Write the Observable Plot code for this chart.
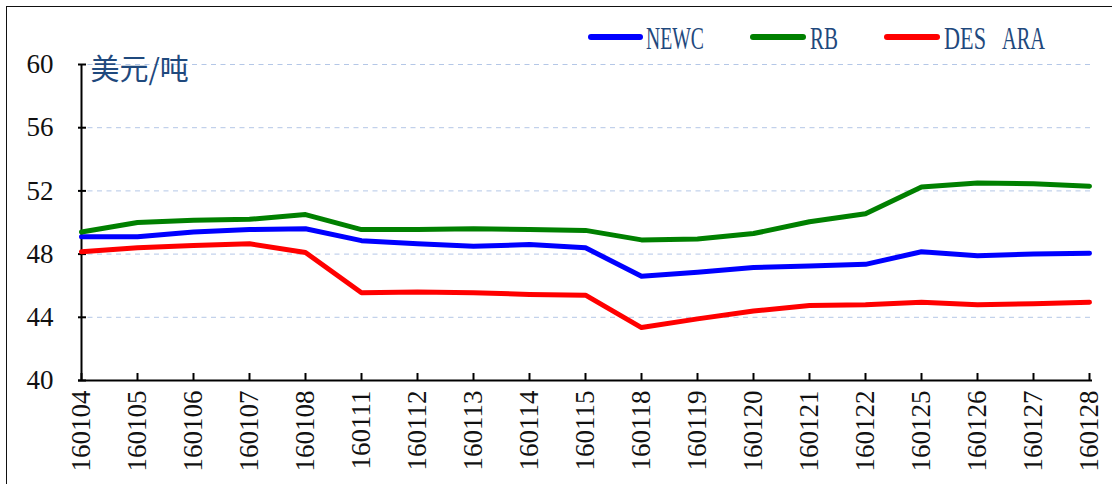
<!DOCTYPE html>
<html>
<head>
<meta charset="utf-8">
<script src="https://cdn.jsdelivr.net/npm/d3@7"></script>
<script src="https://cdn.jsdelivr.net/npm/@observablehq/plot@0.6"></script>
<style>
  html, body { margin: 0; padding: 0; background: #fff; overflow: hidden; }
  #wrap { position: relative; width: 1112px; height: 484px; }
  #border { position: absolute; left: 6px; top: 6px; width: 1300px; height: 700px;
            border-left: 1px solid #111; border-top: 1px solid #111; pointer-events: none; }
  g[aria-label="x-axis tick label"] text, g[aria-label="y-axis tick label"] text,
  g[aria-label="x-axis tick label"], g[aria-label="y-axis tick label"] {
    font-family: "Liberation Serif", "DejaVu Serif", serif !important;
  }
</style>
</head>
<body>
<div id="wrap"><div id="border"></div></div>
<script>
const dates = ["160104","160105","160106","160107","160108","160111","160112","160113","160114","160115",
               "160118","160119","160120","160121","160122","160125","160126","160127","160128"];
const newc   = [49.1, 49.1, 49.4, 49.55, 49.6, 48.85, 48.65, 48.5, 48.6, 48.4, 46.6, 46.85, 47.15, 47.25, 47.35, 48.15, 47.9, 48.0, 48.05];
const rb     = [49.4, 50.0, 50.15, 50.2, 50.5, 49.55, 49.55, 49.6, 49.55, 49.5, 48.9, 48.95, 49.3, 50.05, 50.55, 52.25, 52.5, 52.45, 52.3];
const desAra = [48.15, 48.4, 48.55, 48.65, 48.1, 45.55, 45.6, 45.55, 45.45, 45.4, 43.35, 43.9, 44.4, 44.75, 44.8, 44.95, 44.8, 44.85, 44.95];
const seriesNames = ["NEWC", "RB", "DES ARA"];
const seriesColors = ["#0000FF", "#008000", "#FF0000"];
const yTicks = [40, 44, 48, 52, 56, 60];
const unitLabel = "美元/吨";

const seriesValues = [newc, rb, desAra];
const table = seriesNames.flatMap((name, i) => dates.map((d, j) => ({date: d, value: seriesValues[i][j], series: name})));

const navy = "#1F497D";
const serif = "Liberation Serif";

const chart = Plot.plot({
  width: 1112,
  height: 484,
  marginLeft: 78,
  marginRight: 20,
  marginTop: 64,
  marginBottom: 104,
  style: {fontFamily: serif, fontSize: "27px", color: "#000", background: "transparent", overflow: "visible"},
  x: {type: "point", domain: dates, padding: 0},
  y: {domain: [40, 60]},
  color: {domain: seriesNames, range: seriesColors},
  marks: [
    Plot.gridY(yTicks.filter(t => t > 40), {stroke: "#B4C7E7", strokeOpacity: 1, strokeWidth: 1, strokeDasharray: "5,4.5"}),
    Plot.axisY(yTicks, {tickSize: -8, tickPadding: 33, strokeWidth: 2, label: null, fill: "#111", fontFamily: serif, fontSize: 27}),
    Plot.axisX({tickSize: -7, tickPadding: 17, tickRotate: -90, strokeWidth: 2, label: null, fill: "#111", fontFamily: serif, fontSize: 27}),
    Plot.ruleY([40], {stroke: "#000", strokeWidth: 2}),
    Plot.ruleX([dates[0]], {stroke: "#000", strokeWidth: 2}),
    Plot.lineY(table, {x: "date", y: "value", stroke: "series", z: "series", strokeWidth: 5, strokeLinecap: "round", strokeLinejoin: "round"}),
    Plot.text([unitLabel], {frameAnchor: "top-left", textAnchor: "start", lineAnchor: "top", dx: 12, dy: -5,
      fontSize: 29, fontFamily: "Noto Sans CJK SC", fill: navy})
  ]
});

document.getElementById("wrap").appendChild(chart);

// Legend (drawn at the top right, inside the outer border)
const legendLayout = [
  {x1: 588, x2: 643, tx: 646, parts: [{dx: 0, w: 58}]},
  {x1: 750, x2: 806, tx: 810, parts: [{dx: 0, w: 28}]},
  {x1: 884, x2: 940, tx: 944, parts: [{dx: 0, w: 42}, {dx: 58, w: 43}]}
];
const svg = d3.select(chart);
const lg = svg.append("g").attr("class", "legend").attr("text-anchor", "start");
seriesNames.forEach((name, i) => {
  const L = legendLayout[i];
  lg.append("line").attr("x1", L.x1 + 3).attr("x2", L.x2 - 3).attr("y1", 37).attr("y2", 37)
    .attr("stroke", seriesColors[i]).attr("stroke-width", 6).attr("stroke-linecap", "round");
  name.split(" ").forEach((w, k) => {
    const p = L.parts[k];
    lg.append("text").attr("x", L.tx + p.dx).attr("y", 48.5)
      .attr("text-anchor", "start")
      .attr("font-family", serif).attr("font-size", 32)
      .attr("fill", navy).attr("textLength", p.w).attr("lengthAdjust", "spacingAndGlyphs")
      .text(w);
  });
});
</script>
</body>
</html>
